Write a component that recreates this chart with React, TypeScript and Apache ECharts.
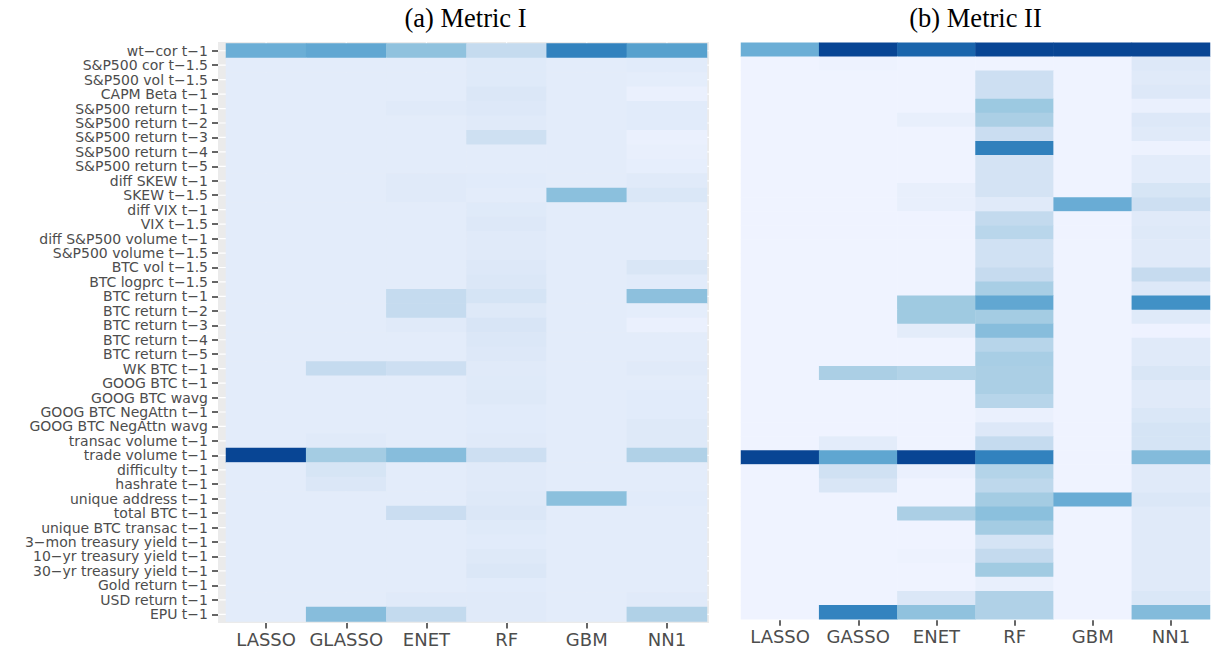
import React, { useEffect, useRef } from "react";
import * as echarts from "echarts";

const titles = ["(a) Metric I", "(b) Metric II"];
const leftModels = ["LASSO", "GLASSO", "ENET", "RF", "GBM", "NN1"];
const rightModels = ["LASSO", "GASSO", "ENET", "RF", "GBM", "NN1"];

const features = [
  "wt−cor t−1",
  "S&P500 cor t−1.5",
  "S&P500 vol t−1.5",
  "CAPM Beta t−1",
  "S&P500 return t−1",
  "S&P500 return t−2",
  "S&P500 return t−3",
  "S&P500 return t−4",
  "S&P500 return t−5",
  "diff SKEW t−1",
  "SKEW t−1.5",
  "diff VIX t−1",
  "VIX t−1.5",
  "diff S&P500 volume t−1",
  "S&P500 volume t−1.5",
  "BTC vol t−1.5",
  "BTC logprc t−1.5",
  "BTC return t−1",
  "BTC return t−2",
  "BTC return t−3",
  "BTC return t−4",
  "BTC return t−5",
  "WK BTC t−1",
  "GOOG BTC t−1",
  "GOOG BTC wavg",
  "GOOG BTC NegAttn t−1",
  "GOOG BTC NegAttn wavg",
  "transac volume t−1",
  "trade volume t−1",
  "difficulty t−1",
  "hashrate t−1",
  "unique address t−1",
  "total BTC t−1",
  "unique BTC transac t−1",
  "3−mon treasury yield t−1",
  "10−yr treasury yield t−1",
  "30−yr treasury yield t−1",
  "Gold return t−1",
  "USD return t−1",
  "EPU t−1",
];

// Metric I: one row per feature, columns LASSO, GLASSO, ENET, RF, GBM, NN1
const leftValues: number[][] = [
  [50, 54, 38, 17, 75, 58],
  [5, 5, 5, 6.5, 5, 5.5],
  [5, 5, 5, 6.5, 5, 4.5],
  [5, 5, 5, 8, 5, 2],
  [5, 5, 6, 7.5, 5, 5.5],
  [5, 5, 5, 6, 5, 5.5],
  [5, 5, 5, 13.5, 5, 2],
  [5, 5, 5, 5, 5, 3],
  [5, 5, 5, 5, 5, 3.5],
  [5, 5, 6, 5.5, 5, 6],
  [5, 5, 6, 5, 39.5, 8.5],
  [5, 5, 5, 6.5, 5, 5],
  [5, 5, 5, 7.5, 5, 5],
  [5, 5, 5, 6, 5, 5],
  [5, 5, 5, 6, 5, 5],
  [5, 5, 5, 7.5, 5, 9],
  [5, 5, 5, 8, 5, 5.5],
  [5, 5, 17, 10.5, 5, 39],
  [5, 5, 17, 7, 5, 4.5],
  [5, 5, 6, 9.5, 5, 2],
  [5, 5, 5, 8, 5, 5],
  [5, 5, 5, 7.5, 5, 5],
  [5, 17, 14, 6, 5, 6],
  [5, 5, 5, 6.5, 5, 5],
  [5, 5, 5, 7, 5, 5.5],
  [5, 5, 5, 5.5, 5, 5.5],
  [5, 5, 5, 5.5, 5, 7],
  [5, 6, 5, 6, 5, 7],
  [100, 31, 41, 14, 5, 26],
  [5, 10, 5, 6, 5, 5],
  [5, 8, 5, 6, 5, 5],
  [5, 5, 5, 7, 39.5, 5.5],
  [5, 5, 15, 8, 5, 5],
  [5, 5, 5, 6.5, 5, 5],
  [5, 5, 5, 5.5, 5, 5],
  [5, 5, 5, 7, 5, 5],
  [5, 5, 5, 8, 5, 5],
  [5, 5, 5, 5.5, 5, 5],
  [5, 5, 6, 6, 5, 6],
  [5, 41, 18, 6, 5, 26],
];

// Metric II: 41 unlabeled rows, columns LASSO, GASSO, ENET, RF, GBM, NN1
const rightValues: number[][] = [
  [50, 100, 88, 100, 100, 100],
  [0, 1, 0, 0, 0, 7.5],
  [0, 0, 0, 14, 0, 6],
  [0, 0, 0, 14, 0, 7.5],
  [0, 0, 0, 34, 0, 2],
  [0, 0, 3, 28, 0, 7.5],
  [0, 0, 0, 15, 0, 6],
  [0, 0, 0, 76, 0, 1],
  [0, 0, 0, 11, 0, 5],
  [0, 0, 0, 11, 0, 5],
  [0, 0, 3, 11, 0, 10],
  [0, 0, 3, 6, 51, 14],
  [0, 0, 0, 18, 0, 6],
  [0, 0, 0, 22, 0, 7],
  [0, 0, 0, 12.5, 0, 6],
  [0, 0, 0, 12.5, 0, 6],
  [0, 0, 0, 16.5, 0, 16.5],
  [0, 0, 0, 29, 0, 7.5],
  [0, 0, 33, 54, 0, 67],
  [0, 0, 33, 31, 0, 6.5],
  [0, 0, 5, 41, 0, 0.5],
  [0, 0, 0, 23, 0, 6],
  [0, 0, 0, 29, 0, 6],
  [0, 28, 25, 28, 0, 9],
  [0, 0, 0, 28, 0, 6],
  [0, 0, 0, 23, 0, 6],
  [0, 0, 0, 2, 0, 8.5],
  [0, 0, 0, 7.5, 0, 10.5],
  [0, 5, 0, 17, 0, 10.5],
  [100, 55, 100, 75, 0, 42],
  [0, 12.5, 2, 24, 0, 6],
  [0, 9, 0, 20, 0, 6],
  [0, 0, 0, 31, 51, 8],
  [0, 0, 28, 39.5, 0, 6],
  [0, 0, 0, 31, 0, 6],
  [0, 0, 0, 10.5, 0, 6],
  [0, 0, 1, 17.5, 0, 6],
  [0, 0, 0, 32, 0, 6],
  [0, 0, 0, 3, 0, 6],
  [0, 0, 8, 26, 0, 8.5],
  [0, 74, 38, 26, 0, 42],
];
const rightRows = rightValues.map((_, i) => String(i + 1));

const blues = ["#eff3ff", "#c6dbef", "#9ecae1", "#6baed6", "#4292c6", "#2171b5", "#084594"];

const toCells = (rows: number[][]) => {
  const out: number[][] = [];
  rows.forEach((r, yi) => r.forEach((v, xi) => out.push([xi, yi, v])));
  return out;
};

export default function App() {
  const ref = useRef<HTMLDivElement>(null);
  useEffect(() => {
    document.body.style.margin = "0";
    if (!ref.current) return;
    const chart = echarts.init(ref.current, null, { renderer: "svg" });

    const LG = { left: 226, top: 43.5, width: 481, height: 578 };
    const RG = { left: 741, top: 42.7, width: 469, height: 576.6 };
    const panel = { x0: 218, y0: 42, x1: 709, y1: 623 };

    const gridLines: any[] = [];
    features.forEach((_, i) => {
      const y = LG.top + ((i + 0.5) * LG.height) / features.length;
      gridLines.push({
        type: "line",
        z: 1,
        shape: { x1: panel.x0, y1: y, x2: panel.x1, y2: y },
        style: { stroke: "#ffffff", lineWidth: 1.2 },
        silent: true,
      });
    });
    leftModels.forEach((_, j) => {
      const x = LG.left + ((j + 0.5) * LG.width) / leftModels.length;
      gridLines.push({
        type: "line",
        z: 1,
        shape: { x1: x, y1: panel.y0, x2: x, y2: panel.y1 },
        style: { stroke: "#ffffff", lineWidth: 1.2 },
        silent: true,
      });
    });

    const titleFont = '26.5px "Liberation Serif", "Times New Roman", serif';
    const tickStyle = { color: "#333333", width: 1.5 };
    const xLabel = { fontFamily: "DejaVu Sans", fontSize: 18, color: "#4D4D4D", margin: 7, interval: 0 };

    chart.setOption({
      animation: false,
      backgroundColor: "#ffffff",
      graphic: [
        {
          type: "rect",
          z: 0,
          silent: true,
          shape: { x: panel.x0, y: panel.y0, width: panel.x1 - panel.x0, height: panel.y1 - panel.y0 },
          style: { fill: "#EBEBEB" },
        },
        ...gridLines,
        {
          type: "text",
          x: (panel.x0 + panel.x1) / 2 + 2,
          y: 4,
          style: { text: titles[0], font: titleFont, fill: "#000", align: "center", textAlign: "center", verticalAlign: "top", textVerticalAlign: "top" },
        },
        {
          type: "text",
          x: RG.left + RG.width / 2,
          y: 4,
          style: { text: titles[1], font: titleFont, fill: "#000", align: "center", textAlign: "center", verticalAlign: "top", textVerticalAlign: "top" },
        },
      ],
      grid: [
        { left: LG.left, top: LG.top, width: LG.width, height: LG.height, containLabel: false },
        { left: RG.left, top: RG.top, width: RG.width, height: RG.height, containLabel: false },
      ],
      xAxis: [
        {
          type: "category",
          gridIndex: 0,
          data: leftModels,
          position: "bottom",
          offset: 1.5,
          axisLine: { show: false },
          axisTick: { show: true, alignWithLabel: true, length: 5.5, lineStyle: tickStyle },
          axisLabel: xLabel,
          splitLine: { show: false },
        },
        {
          type: "category",
          gridIndex: 1,
          data: rightModels,
          position: "bottom",
          offset: 1,
          axisLine: { show: false },
          axisTick: { show: true, alignWithLabel: true, length: 5.5, lineStyle: tickStyle },
          axisLabel: xLabel,
          splitLine: { show: false },
        },
      ],
      yAxis: [
        {
          type: "category",
          gridIndex: 0,
          data: features,
          inverse: true,
          offset: 8,
          axisLine: { show: false },
          axisTick: { show: true, alignWithLabel: true, length: 6, lineStyle: tickStyle },
          axisLabel: { fontFamily: "DejaVu Sans", fontSize: 14, lineHeight: 14, color: "#4D4D4D", margin: 10, interval: 0 },
          splitLine: { show: false },
        },
        {
          type: "category",
          gridIndex: 1,
          data: rightRows,
          inverse: true,
          axisLine: { show: false },
          axisTick: { show: false },
          axisLabel: { show: false },
          splitLine: { show: false },
        },
      ],
      visualMap: [
        { type: "continuous", show: false, seriesIndex: 0, dimension: 2, min: 0, max: 100, inRange: { color: blues } },
        { type: "continuous", show: false, seriesIndex: 1, dimension: 2, min: 0, max: 100, inRange: { color: blues } },
      ],
      series: [
        {
          type: "heatmap",
          xAxisIndex: 0,
          yAxisIndex: 0,
          z: 5,
          data: toCells(leftValues),
          itemStyle: { borderWidth: 0 },
          emphasis: { disabled: true },
        },
        {
          type: "heatmap",
          xAxisIndex: 1,
          yAxisIndex: 1,
          z: 5,
          data: toCells(rightValues),
          itemStyle: { borderWidth: 0 },
          emphasis: { disabled: true },
        },
      ],
    });
    return () => chart.dispose();
  }, []);
  return <div ref={ref} style={{ width: 1213, height: 652 }} />;
}
